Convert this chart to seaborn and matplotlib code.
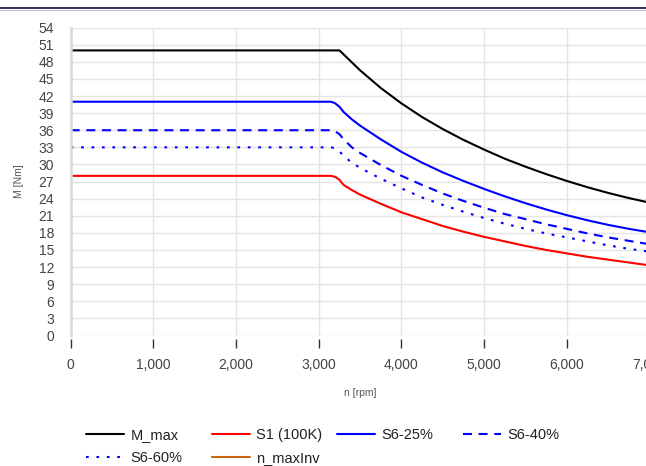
import pandas as pd
import matplotlib.pyplot as plt
import seaborn as sns
from matplotlib.lines import Line2D
from matplotlib.ticker import FuncFormatter

# Kennlinien (Drehmoment über Drehzahl)
n_rpm = [0, 3150, 3200, 3250, 3300, 3400, 3500, 3750, 4000, 4250, 4500,
         4750, 5000, 5250, 5500, 5750, 6000, 6250, 6500, 6750, 7000]
m_max = [50, 50, 50, 50, 49.3, 47.9, 46.5, 43.4, 40.7, 38.3, 36.2,
         34.3, 32.6, 31.0, 29.6, 28.3, 27.1, 26.0, 25.0, 24.1, 23.3]
s1_100k = [28, 28, 27.8, 27.3, 26.4, 25.5, 24.7, 23.1, 21.6, 20.4, 19.2,
           18.2, 17.3, 16.5, 15.7, 15.0, 14.4, 13.8, 13.3, 12.8, 12.3]
s6_25 = [41, 41, 40.7, 40.1, 39.2, 37.9, 36.8, 34.4, 32.2, 30.3, 28.6,
         27.1, 25.7, 24.4, 23.2, 22.1, 21.1, 20.2, 19.4, 18.7, 18.1]
s6_40 = [36, 36, 35.8, 35.3, 34.4, 33.0, 32.0, 29.9, 28.0, 26.4, 24.9,
         23.6, 22.4, 21.3, 20.4, 19.5, 18.7, 17.9, 17.2, 16.6, 16.0]
s6_60 = [33, 33, 32.8, 32.3, 31.5, 30.3, 29.4, 27.5, 25.8, 24.2, 22.9,
         21.7, 20.6, 19.6, 18.7, 17.9, 17.2, 16.5, 15.8, 15.2, 14.7]

series = ['M_max', 'S1 (100K)', 'S6-25%', 'S6-40%', 'S6-60%']
values = [m_max, s1_100k, s6_25, s6_40, s6_60]
farben = {'M_max': '#000000', 'S1 (100K)': '#ff0000', 'S6-25%': '#0000ff',
          'S6-40%': '#0000ff', 'S6-60%': '#0000ff'}
striche = {'M_max': '', 'S1 (100K)': '', 'S6-25%': '',
           'S6-40%': (4.3, 3.2), 'S6-60%': (1.3, 3.7)}

df = pd.concat([pd.DataFrame({'n': n_rpm, 'M': v, 'kurve': s})
                for s, v in zip(series, values)], ignore_index=True)

sns.set_theme(style='whitegrid')
plt.rcParams['font.family'] = ['Liberation Sans', 'DejaVu Sans']

fig = plt.figure(figsize=(6.46, 4.66), dpi=100)
ax = fig.add_axes([70.7 / 646, 1 - 335.5 / 466, 578.9 / 646, 307.9 / 466])

sns.lineplot(data=df, x='n', y='M', hue='kurve', style='kurve',
             palette=farben, dashes=striche, hue_order=series,
             style_order=series, linewidth=1.5, sort=False, ax=ax)

ax.set_xlim(0, 7000)
ax.set_ylim(0, 54)
ax.set_xticks(range(0, 7001, 1000))
ax.set_yticks(range(0, 55, 3))
ax.xaxis.set_major_formatter(FuncFormatter(lambda v, p: f'{int(v):,}'))

ax.grid(True, color='#e4e4e4', linewidth=1.0)
for s in ['top', 'right', 'bottom']:
    ax.spines[s].set_visible(False)
ax.spines['left'].set_color('#d9d9d9')
ax.spines['left'].set_linewidth(1.8)
ax.spines['bottom'].set_position(('outward', 2.4))

ax.tick_params(axis='x', length=6.5, width=1.0, color='#333333', bottom=True,
               direction='out', pad=7, labelsize=10, labelcolor='#444444')
ax.tick_params(axis='y', length=0, pad=12, labelsize=10, labelcolor='#444444')

ax.set_xlabel('n [rpm]', fontsize=7.5, color='#555555')
ax.set_ylabel('M [Nm]', fontsize=7.5, color='#555555')
ax.xaxis.set_label_coords(0.5, -0.17)
ax.yaxis.set_label_coords(-0.08, 0.5)

# Legende: Einträge einzeln platzieren wie im Original
handles, labels = ax.get_legend_handles_labels()
ax.get_legend().remove()
h = dict(zip(labels, handles))
h['n_maxInv'] = Line2D([], [], color='#cc6611', linewidth=1.5)
plaetze = {'M_max': (86, 435), 'S1 (100K)': (212, 435), 'S6-25%': (337, 435),
           'S6-40%': (463, 435), 'S6-60%': (86, 458), 'n_maxInv': (212, 458)}
for name, (px, py) in plaetze.items():
    leg = fig.legend([h[name]], [name], loc='center left',
                     bbox_to_anchor=(px / 646, 1 - py / 466), frameon=False,
                     borderpad=0, borderaxespad=0, handlelength=2.6,
                     handletextpad=0.45, fontsize=10.5)
    for t in leg.get_texts():
        t.set_color('#222222')

# Linie oben am Rand
fig.add_artist(Line2D([0, 1], [1 - 8.2 / 466] * 2, transform=fig.transFigure,
                      color='#0b0b3b', linewidth=1.2))
fig.add_artist(Line2D([0, 1], [1 - 9.8 / 466] * 2, transform=fig.transFigure,
                      color='#b8b8d8', linewidth=0.7))

plt.savefig('out.png', dpi=100)
